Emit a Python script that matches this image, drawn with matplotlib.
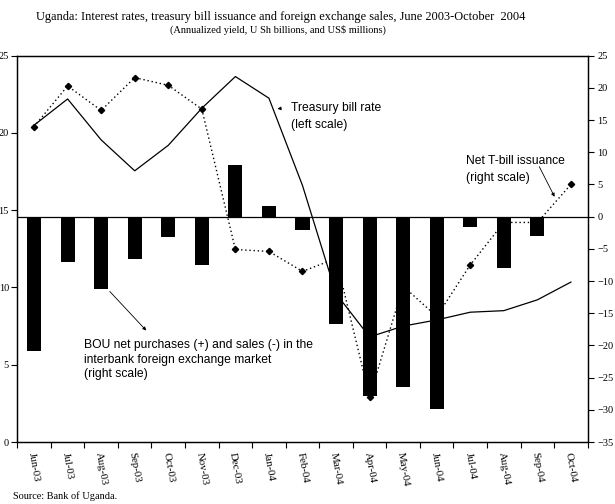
import numpy as np
import matplotlib.pyplot as plt
from matplotlib.ticker import FixedLocator

months = ["Jun-03", "Jul-03", "Aug-03", "Sep-03", "Oct-03", "Nov-03", "Dec-03",
          "Jan-04", "Feb-04", "Mar-04", "Apr-04", "May-04", "Jun-04", "Jul-04",
          "Aug-04", "Sep-04", "Oct-04"]
# treasury bill rate, annualized yield (left scale)
tbill_rate = [20.5, 22.2, 19.55, 17.55, 19.2, 21.6, 23.65, 22.25, 16.6, 9.6,
              6.8, 7.5, 7.9, 8.4, 8.5, 9.2, 10.35]
# net T-bill issuance, U Sh billions (right scale)
net_tbill = [14.0, 20.3, 16.5, 21.6, 20.4, 16.7, -5.1, -5.4, -8.5, -6.5,
             -28.0, -10.8, -15.5, -7.5, -0.9, -0.9, 5.0]
# BOU net purchases/sales, US$ millions (right scale)
bou_fx = [-20.8, -7.0, -11.3, -6.6, -3.1, -7.5, 8.0, 1.7, -2.0, -16.6,
          -27.9, -26.4, -29.8, -1.6, -8.0, -3.0, np.nan]

serif = "Liberation Serif"
sans = "Liberation Sans"

fig = plt.figure(figsize=(6.15, 5.04), dpi=100)
ax = fig.add_axes([0.0281, 0.123, 0.9275, 0.7665])
ax2 = ax.twinx()

x = np.arange(len(months))

ax.plot(x, tbill_rate, color="black", lw=0.9, zorder=2)
ax.set_ylim(0, 25)
ax.set_yticks(range(0, 26, 5))
ax.set_xlim(-0.5, len(months) - 0.5)

ax2.plot(x, net_tbill, color="black", lw=1.0, ls=(0, (1, 2)), marker="D",
         markersize=3.2, zorder=1)
ax2.bar(x, bou_fx, width=0.42, color="black", zorder=2)
ax2.axhline(0, color="black", lw=0.9, zorder=3)
ax2.set_ylim(-35, 25)
ax2.set_yticks(range(-35, 26, 5))

ax.set_xticks(x)
ax.set_xticklabels(months, rotation=-80, ha="center", va="top",
                   fontfamily=serif, fontsize=7.8)
ax.xaxis.set_minor_locator(FixedLocator(np.arange(-0.5, len(months), 1)))
ax.tick_params(axis="x", which="major", length=0, pad=7)
ax.tick_params(axis="x", which="minor", length=4, direction="out", width=0.8)
ax.tick_params(axis="y", length=4, width=0.8, pad=2, labelsize=7.5)
ax2.tick_params(axis="y", length=4, width=0.8, pad=3, labelsize=7.5)
for lab in ax.get_yticklabels() + ax2.get_yticklabels():
    lab.set_fontfamily(serif)

for a in (ax, ax2):
    for s in a.spines.values():
        s.set_linewidth(0.9)

fig.text(0.457, 0.966, "Uganda: Interest rates, treasury bill issuance and foreign "
         "exchange sales, June 2003-October  2004", ha="center", va="center",
         fontfamily=serif, fontsize=8.9)
fig.text(0.452, 0.941, "(Annualized yield, U Sh billions, and US$ millions)",
         ha="center", va="center", fontfamily=serif, fontsize=7.45)
fig.text(0.021, 0.016, "Source: Bank of Uganda.", ha="left", va="center",
         fontfamily=serif, fontsize=7.4)

# annotations
ax.text(7.65, 21.07, "Treasury bill rate\n(left scale)", ha="left", va="center",
        fontfamily=sans, fontsize=8.7, linespacing=1.5)
ax.annotate("", xy=(7.17, 21.55), xytext=(7.42, 21.6),
            arrowprops=dict(arrowstyle="-|>", color="black", lw=0.6,
                            mutation_scale=5))

ax2.text(12.86, 7.3, "Net T-bill issuance\n(right scale)", ha="left",
         va="center", fontfamily=sans, fontsize=8.7, linespacing=1.55)
ax2.annotate("", xy=(15.55, 2.7), xytext=(15.02, 8.15),
             arrowprops=dict(arrowstyle="-|>", color="black", lw=0.6,
                             mutation_scale=5))

ax2.text(1.5, -22.2, "BOU net purchases (+) and sales (-) in the\n"
         "interbank foreign exchange market\n(right scale)", ha="left",
         va="center", fontfamily=sans, fontsize=8.7, linespacing=1.3)
ax2.annotate("", xy=(3.4, -18.0), xytext=(2.2, -11.3),
             arrowprops=dict(arrowstyle="-|>", color="black", lw=0.6,
                             mutation_scale=5))

fig.savefig("out.png", dpi=100)
